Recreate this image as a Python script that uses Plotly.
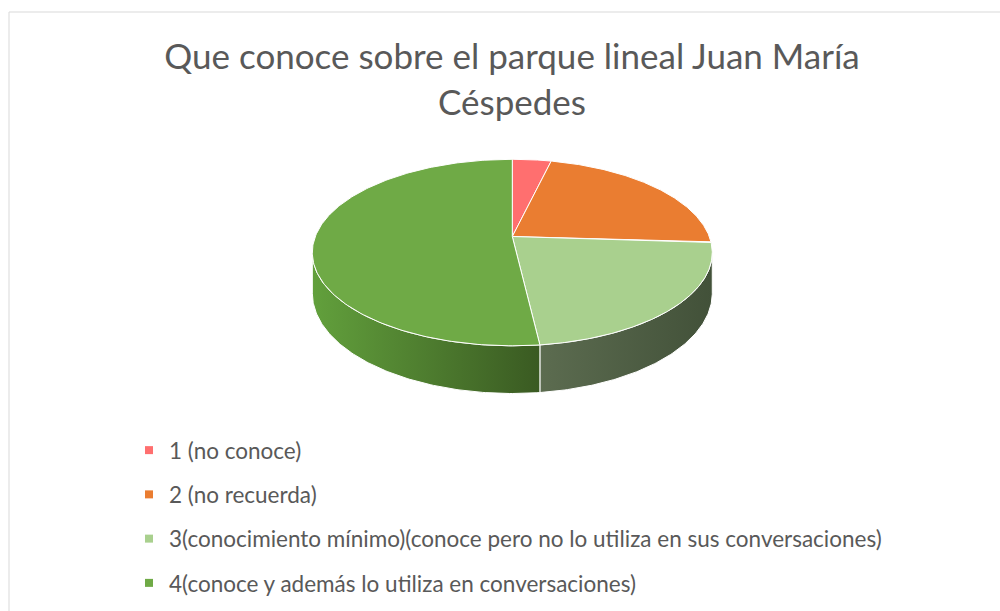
import numpy as np
import plotly.graph_objects as go

# data
categorias = ["1 (no conoce)", "2 (no recuerda)",
              "3(conocimiento mínimo)(conoce pero no lo utiliza en sus conversaciones)",
              "4(conoce y además lo utiliza en conversaciones)"]
respuestas = [1, 6, 6, 14]
colores = ["#FF6F6F", "#EA7D31", "#A9D08E", "#6FAA46"]
colores_lado = [["#C85050", "#A03838"], ["#B85F22", "#8A4515"],
                ["#5C6C50", "#425139"], ["#62A03C", "#3A5A22"]]

# geometria del pastel 3D (pixeles de la ventana)
CX, CY, R, H, K, PROF = 512.3, 236.5, 197.0, 90.5, 0.172, 39.5


def proyectar(theta, caida=0.0):
    t = np.radians(theta)
    w = 1 + K * np.cos(t)
    x = CX + R * np.sin(t) / w
    y = CY - H * np.cos(t) / w + PROF * caida / w
    return x, y


total = sum(respuestas)
angulos = np.cumsum([0] + [v / total * 360 for v in respuestas])
lim_a = np.degrees(np.arccos(-K))          # borde visible derecho
lim_b = 360 - lim_a                         # borde visible izquierdo

fig = go.Figure()

# paredes laterales
for i in range(len(respuestas)):
    a, b = max(angulos[i], lim_a), min(angulos[i + 1], lim_b)
    if b <= a:
        continue
    th = np.linspace(a, b, 120)
    xs, ys = proyectar(th)
    xb, yb = proyectar(th[::-1], 1.0)
    fig.add_trace(go.Scatter(
        x=np.concatenate([xs, xb, xs[:1]]), y=np.concatenate([ys, yb, ys[:1]]),
        mode="lines", fill="toself", line=dict(color="white", width=1),
        fillgradient=dict(type="horizontal",
                          colorscale=[[0, colores_lado[i][0]], [1, colores_lado[i][1]]]),
        hoverinfo="skip", showlegend=False))

# caras superiores
for i, (cat, val) in enumerate(zip(categorias, respuestas)):
    th = np.linspace(angulos[i], angulos[i + 1], 200)
    xs, ys = proyectar(th)
    fig.add_trace(go.Scatter(
        x=np.concatenate([[CX], xs, [CX]]), y=np.concatenate([[CY], ys, [CY]]),
        mode="lines", fill="toself", fillcolor=colores[i],
        line=dict(color="white", width=1),
        hovertemplate=f"<b>{cat}</b><br>Respuestas: {val}<extra></extra>",
        showlegend=False))

# leyenda
for i, cat in enumerate(categorias):
    fig.add_trace(go.Scatter(
        x=[None], y=[None], mode="markers", name=cat, legendgroup=str(i),
        marker=dict(symbol="square", size=8, color=colores[i])))

fig.add_shape(type="rect", x0=9, y0=12, x1=1010, y1=620,
              line=dict(color="#D9D9D9", width=1), layer="below")

fig.update_layout(
    width=1000, height=611,
    title=dict(text="Que conoce sobre el parque lineal Juan María<br>Céspedes",
               x=0.512, xanchor="center", y=1 - 69 / 611, yanchor="middle",
               font=dict(family="Lato", size=35, color="#595959")),
    xaxis=dict(range=[0, 1000], visible=False, fixedrange=True),
    yaxis=dict(range=[611, 0], visible=False, fixedrange=True),
    margin=dict(l=0, r=0, t=0, b=0),
    plot_bgcolor="white", paper_bgcolor="white",
    legend=dict(x=0.129, xanchor="left", y=1 - 429 / 611, yanchor="top",
                font=dict(family="Lato", size=22.5, color="#595959"),
                tracegroupgap=12, bgcolor="rgba(0,0,0,0)"),
)

fig.write_html("out.html", config={"displayModeBar": False},
               post_script="document.body.style.margin='0';")
